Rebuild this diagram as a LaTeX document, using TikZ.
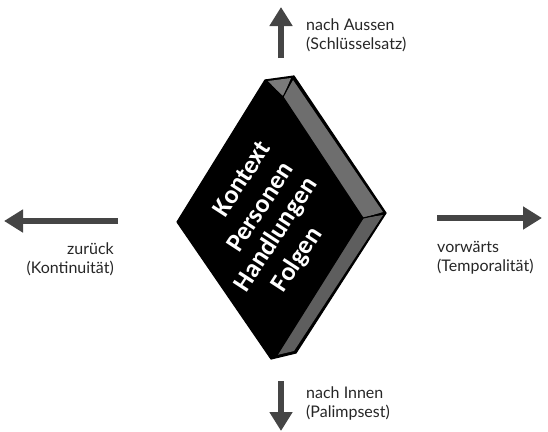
\documentclass[tikz,border=0pt]{standalone}
\usepackage{fontspec}
\setmainfont{Lato}
\newfontfamily\slabfont{Carlito}
\usetikzlibrary{arrows.meta}
\definecolor{arrgray}{HTML}{454545}
\definecolor{bandA}{HTML}{6E6E6E}
\definecolor{bandB}{HTML}{5E5E5E}
\definecolor{capgray}{HTML}{7A7A7A}
\tikzset{
  arr/.style={draw=arrgray, line width=5.5pt, -{Triangle[width=22pt,length=19pt]}},
  lbl/.style={font=\fontsize{16}{19}\selectfont, inner sep=0pt, text=black!85},
  slabtxt/.style={font=\slabfont\bfseries\fontsize{26}{30}\selectfont, text=white, rotate=57, inner sep=0pt},
  edge/.style={draw=black, line width=1.2pt, line join=round}
}
\begin{document}
\begin{tikzpicture}[x=1pt,y=-1pt]
\useasboundingbox (0,0) rectangle (548,431);
% slab
\coordinate (L) at (177,222);
\coordinate (T) at (265,80);
\coordinate (Tb) at (294,76);
\coordinate (Tf) at (283,97);
\coordinate (R) at (386,213);
\coordinate (Rf) at (363,218);
\coordinate (Bb) at (296,353);
\coordinate (B) at (271,359);
\coordinate (Bf) at (277,355);
\fill[black] (L) -- (T) -- (Tb) -- (R) -- (Bb) -- (B) -- cycle;
\fill[capgray] (268,81) -- (291,78) -- (Tf) -- cycle;
\fill[bandA] (Tf) -- (293,80) -- (383,212) -- (Rf) -- cycle;
\fill[bandB] (Rf) -- (383,215) -- (294,351) -- (Bf) -- cycle;
\draw[edge] (L) -- (T) -- (Tb) -- (R) -- (Bb) -- (B) -- cycle;
\draw[edge] (T) -- (Tf) -- (Rf) -- (Bf);
\draw[edge] (Tb) -- (Tf);
\draw[edge] (Rf) -- (R);
% slab text
\node[slabtxt] (k) at (241.5,178.5) {Kontext};
\node[slabtxt] (p) at (260,207) {Personen};
\node[slabtxt] (h) at (276.5,235) {Handlungen};
\node[slabtxt] (f) at (297.5,260) {Folgen};
% arrows
\coordinate (upS) at (281,58);
\coordinate (upE) at (281,7);
\coordinate (dnS) at (281,381);
\coordinate (dnE) at (281,431);
\coordinate (lfS) at (118,221);
\coordinate (lfE) at (4,221);
\coordinate (rtS) at (437,218);
\coordinate (rtE) at (542,218);
\draw[arr] (upS) -- (upE);
\draw[arr] (dnS) -- (dnE);
\draw[arr] (lfS) -- (lfE);
\draw[arr] (rtS) -- (rtE);
% labels
\node[lbl, anchor=west, align=left] (ua) at (306,35) {nach Aussen\\(Schlüsselsatz)};
\node[lbl, anchor=west, align=left] (ni) at (306,403) {nach Innen\\(Palimpsest)};
\node[lbl, anchor=east, align=right] (zu) at (114,259) {zurück\\(Kontinuität)};
\node[lbl, anchor=west, align=left] (vo) at (437,258) {vorwärts\\(Temporalität)};
\end{tikzpicture}
\end{document}
